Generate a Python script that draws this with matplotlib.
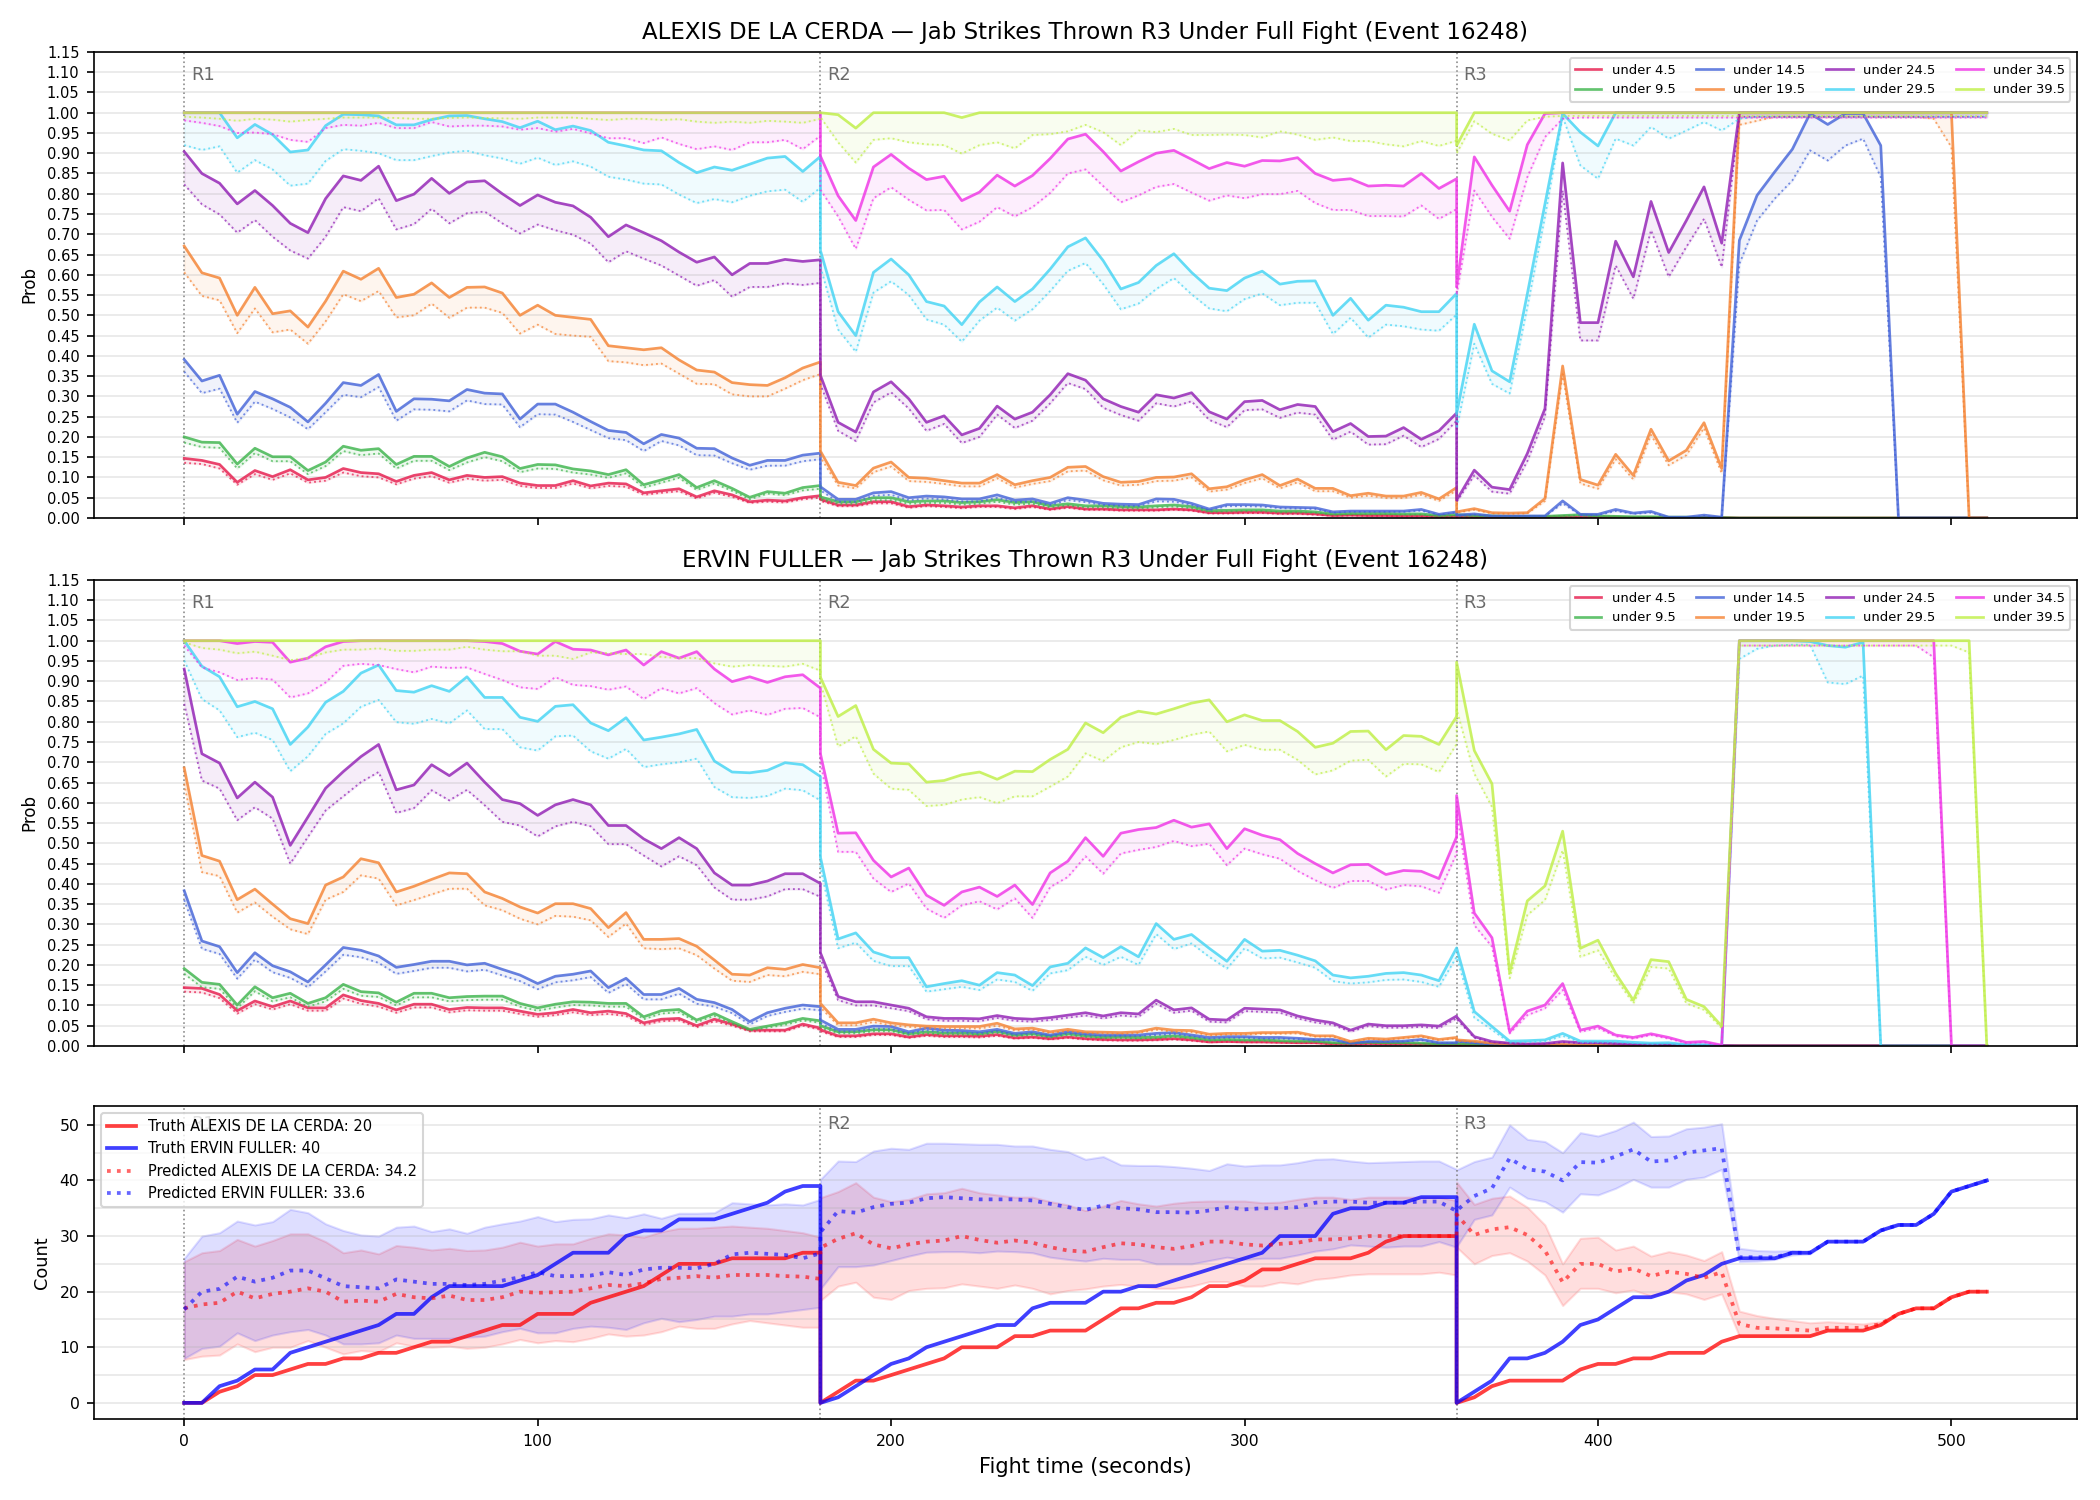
import numpy as np
import matplotlib
matplotlib.use("Agg")
import matplotlib.pyplot as plt
import matplotlib.transforms as mtransforms
from matplotlib.ticker import MultipleLocator, FormatStrFormatter

# -----------------------------
# CONFIG / DATA
# -----------------------------
FIGHTER_A = "ALEXIS DE LA CERDA"
FIGHTER_B = "ERVIN FULLER"
EVENT = "Jab Strikes Thrown R3 Under Full Fight (Event 16248)"

ROUND_STARTS = [0, 180, 360]
ROUND_ENDS = [180, 360, 510]
ROUND_NAMES = ["R1", "R2", "R3"]
STEP = 5

THRESHOLDS = ["under 4.5", "under 9.5", "under 14.5", "under 19.5",
              "under 24.5", "under 29.5", "under 34.5", "under 39.5"]
LINE_COLORS = ["#e6194b", "#3cb44b", "#4363d8", "#f58231",
               "#911eb4", "#42d4f4", "#f032e6", "#bfef45"]

# ---- ALEXIS DE LA CERDA probabilities (solid = estimate, _LO = lower bound)
A_U45 = ([.147, .142, .132, .088, .117, .102, .119, .094, .100, .122, .112, .109, .090, .105, .112, .094, .105, .100, .102, .086, .080, .080, .092, .079, .086, .084, .062, .067, .072, .052, .067, .057, .040, .044, .042, .050, .055]
         + [.046, .032, .032, .040, .040, .028, .032, .030, .027, .030, .030, .025, .030, .022, .028, .022, .022, .020, .020, .020, .022, .020, .013, .013, .014, .014, .012, .012, .010, .006, .007, .006, .006, .005, .005, .003, .004]
         + [.004, .003, .003, .002, .002, .002, .003, .002, .002, .002, .001, .001, .001, .001, .001, .001] + [0.0] * 15)
A_U45_LO = ([.136, .133, .122, .082, .108, .094, .110, .087, .092, .112, .103, .100, .083, .097, .103, .087, .097, .092, .094, .079, .074, .074, .085, .073, .079, .077, .057, .062, .066, .048, .062, .052, .037, .040, .038, .046, .050]
            + [.042, .029, .029, .036, .036, .025, .029, .027, .024, .027, .027, .022, .027, .020, .025, .020, .020, .018, .018, .018, .020, .018, .011, .011, .012, .012, .010, .010, .008, .005, .006, .005, .005, .004, .004, .002, .003]
            + [.003, .002, .002, .001, .001, .001, .002, .001, .001, .001, 0, 0, 0, 0, 0, 0] + [0.0] * 15)
A_U95 = ([.200, .187, .186, .133, .172, .151, .151, .117, .138, .177, .167, .171, .132, .152, .152, .127, .148, .162, .151, .122, .132, .131, .121, .116, .107, .119, .082, .094, .107, .075, .092, .073, .051, .065, .061, .075, .080]
         + [.052, .040, .040, .050, .050, .040, .042, .042, .038, .040, .045, .038, .040, .030, .035, .030, .030, .028, .027, .030, .032, .028, .018, .019, .020, .020, .017, .017, .015, .010, .011, .011, .011, .010, .010, .006, .008]
         + [.008, .006, .005, .004, .004, .004, .006, .008, .005, .004, .003, .003, .002, .002, .001, .001] + [0.0] * 15)
A_U95_LO = ([.186, .175, .173, .122, .160, .140, .140, .108, .128, .165, .155, .159, .122, .141, .141, .118, .137, .150, .140, .113, .122, .121, .112, .107, .099, .110, .075, .087, .099, .069, .085, .067, .046, .060, .056, .068, .072]
            + [.046, .035, .035, .044, .044, .035, .037, .037, .033, .035, .040, .033, .035, .026, .031, .026, .026, .024, .023, .026, .028, .024, .015, .016, .017, .017, .014, .014, .013, .008, .009, .009, .009, .008, .008, .005, .006]
            + [.006, .005, .004, .003, .003, .003, .005, .006, .004, .003, .002, .002, .001, .001, 0, 0] + [0.0] * 15)
A_U145 = ([.391, .338, .352, .256, .312, .294, .273, .237, .283, .334, .327, .354, .263, .294, .293, .289, .317, .308, .306, .244, .281, .281, .261, .238, .216, .211, .183, .206, .197, .172, .171, .148, .130, .142, .142, .155, .160]
          + [.077, .046, .046, .062, .065, .050, .054, .052, .047, .047, .057, .044, .047, .036, .050, .044, .036, .034, .033, .047, .046, .036, .022, .033, .033, .032, .027, .026, .025, .015, .017, .017, .017, .017, .021, .009, .015]
          + [.007, .010, .005, .005, .005, .005, .042, .009, .009, .021, .012, .016, .002, .002, .007, .002, .685, .796, .854, .910, .998, .971, .998, .998, .919] + [0.0] * 6)
A_U145_LO = ([.361, .308, .319, .235, .287, .269, .248, .219, .261, .304, .298, .323, .240, .268, .267, .263, .290, .281, .280, .224, .256, .255, .237, .217, .197, .192, .165, .190, .179, .155, .154, .135, .119, .129, .129, .140, .145]
             + [.068, .040, .040, .055, .057, .044, .048, .046, .041, .041, .050, .039, .041, .032, .044, .039, .032, .030, .029, .041, .040, .032, .019, .029, .029, .028, .024, .023, .022, .013, .015, .015, .015, .015, .018, .008, .013]
             + [.005, .008, .004, .004, .004, .004, .036, .007, .007, .017, .010, .013, .001, .001, .005, .001, .627, .734, .788, .833, .907, .882, .919, .936, .841] + [0.0] * 6)
A_U195 = ([.671, .605, .592, .500, .569, .504, .511, .471, .535, .609, .589, .616, .544, .552, .580, .544, .569, .570, .555, .500, .525, .500, .495, .490, .425, .420, .415, .420, .390, .365, .360, .334, .329, .327, .346, .370, .385]
          + [.165, .088, .080, .123, .138, .100, .098, .092, .086, .086, .107, .082, .092, .100, .125, .127, .102, .088, .090, .100, .101, .109, .072, .077, .094, .107, .080, .096, .073, .073, .055, .061, .054, .054, .063, .047, .075]
          + [.015, .023, .013, .012, .013, .048, .375, .095, .081, .157, .105, .219, .141, .167, .235, .122] + [1.0] * 13 + [0.0, 0.0])
A_U195_LO = ([.606, .548, .537, .456, .517, .458, .465, .430, .485, .552, .535, .560, .495, .500, .529, .494, .519, .519, .506, .455, .477, .454, .450, .447, .387, .384, .377, .381, .356, .331, .330, .305, .300, .300, .319, .340, .355]
             + [.150, .080, .073, .113, .127, .091, .089, .084, .078, .078, .098, .075, .084, .091, .115, .117, .093, .080, .082, .091, .092, .100, .065, .070, .086, .098, .073, .088, .066, .066, .050, .055, .049, .049, .057, .042, .068]
             + [.013, .020, .011, .010, .011, .042, .355, .085, .072, .145, .095, .205, .130, .155, .222, .110, .970, .980, .990, .990, .990, .990, .990, .990, .990, .990, .990, .985, .915, 0.0, 0.0])
A_U245 = ([.904, .850, .826, .775, .808, .771, .727, .704, .788, .844, .833, .868, .783, .799, .838, .801, .829, .832, .800, .771, .797, .779, .770, .742, .694, .723, .704, .684, .656, .631, .644, .600, .628, .628, .638, .633, .637]
          + [.352, .236, .212, .311, .336, .294, .236, .252, .205, .221, .276, .244, .261, .304, .356, .340, .294, .275, .261, .304, .296, .309, .262, .244, .287, .290, .267, .280, .275, .213, .233, .201, .202, .223, .194, .215, .259]
          + [.044, .118, .076, .070, .159, .270, .876, .482, .482, .683, .595, .781, .655, .734, .817, .678] + [1.0] * 15)
A_U245_LO = ([.823, .774, .749, .704, .735, .694, .660, .640, .694, .767, .757, .789, .712, .725, .763, .727, .752, .756, .727, .702, .724, .710, .699, .677, .631, .658, .640, .623, .598, .573, .587, .546, .570, .570, .579, .575, .580]
             + [.330, .215, .190, .285, .310, .270, .215, .232, .185, .200, .255, .222, .240, .283, .333, .318, .272, .254, .240, .283, .275, .288, .242, .224, .266, .268, .247, .260, .255, .193, .213, .181, .182, .203, .175, .195, .240]
             + [.040, .105, .065, .060, .140, .250, .808, .438, .438, .623, .541, .710, .595, .669, .738, .619] + [0.99] * 15)
A_U295 = ([1.0, 1.0, 1.0, .938, .971, .946, .903, .908, .968, .996, .995, .992, .970, .970, .983, .992, .993, .985, .978, .963, .979, .958, .967, .956, .927, .918, .908, .906, .877, .852, .866, .858, .873, .888, .892, .855, .892]
          + [.660, .509, .450, .606, .639, .600, .534, .523, .477, .533, .570, .534, .565, .614, .669, .691, .635, .565, .581, .623, .652, .606, .567, .561, .592, .609, .577, .584, .585, .500, .542, .488, .525, .520, .509, .509, .554]
          + [.257, .478, .363, .336, .553, .775, .998, .952, .918] + [1.0] * 22)
A_U295_LO = ([.920, .908, .917, .852, .883, .860, .820, .825, .881, .910, .906, .900, .883, .883, .893, .902, .906, .895, .887, .874, .889, .871, .880, .867, .842, .835, .825, .823, .798, .777, .787, .779, .795, .806, .810, .780, .815]
             + [.620, .465, .410, .556, .584, .550, .490, .477, .435, .487, .519, .487, .515, .560, .610, .629, .577, .515, .529, .565, .592, .552, .517, .510, .540, .554, .525, .531, .531, .454, .494, .445, .477, .473, .465, .462, .502]
             + [.220, .430, .331, .307, .520, .743, .990, .870, .837, .936, .919, .965, .936, .956, .977, .956, .985] + [0.99] * 14)
A_U345 = ([1.0] * 37
          + [.893, .795, .734, .866, .897, .863, .835, .843, .783, .804, .846, .819, .845, .887, .935, .947, .904, .856, .879, .900, .907, .885, .862, .877, .868, .882, .881, .889, .850, .833, .837, .819, .821, .819, .850, .813, .837]
          + [.570, .891, .821, .757, .921, .998] + [1.0] * 25)
A_U345_LO = ([.981, .975, .967, .950, .951, .947, .933, .928, .962, .970, .968, .975, .962, .962, .977, .966, .968, .968, .966, .958, .962, .953, .960, .949, .937, .937, .925, .939, .923, .910, .917, .908, .927, .927, .933, .910, .943]
             + [.810, .744, .664, .789, .816, .785, .759, .760, .712, .731, .767, .744, .767, .802, .850, .860, .819, .779, .796, .817, .824, .803, .783, .796, .789, .799, .799, .807, .777, .760, .760, .745, .745, .744, .771, .738, .762]
             + [.550, .808, .743, .689, .841, .940, .985] + [0.988] * 24)
A_U395 = ([1.0] * 37
          + [1.0, .995, .962, 1.0, 1.0, 1.0, 1.0, 1.0, .988, 1.0] + [1.0] * 27
          + [.919] + [1.0] * 30)
A_U395_LO = ([.990, .988, .985, .980, .985, .983, .978, .982, .985, .988, .988, .988, .987, .985, .985, .987, .988, .987, .986, .985, .988, .988, .988, .985, .982, .985, .985, .982, .984, .978, .975, .978, .975, .980, .978, .975, .985]
             + [.989, .927, .877, .933, .937, .927, .922, .920, .899, .920, .927, .912, .945, .947, .954, .970, .952, .920, .956, .952, .960, .945, .945, .946, .945, .939, .954, .946, .933, .939, .930, .930, .922, .917, .930, .918, .931]
             + [.900, .979, .948, .932, .981, .990] + [0.992] * 25)

# ---- ERVIN FULLER probabilities
E_U45 = ([.144, .142, .127, .087, .111, .097, .111, .094, .094, .126, .112, .105, .089, .103, .103, .090, .095, .094, .094, .086, .078, .082, .090, .082, .086, .080, .057, .066, .068, .050, .066, .054, .039, .039, .039, .054, .044]
         + [.040, .025, .025, .030, .030, .022, .028, .025, .025, .024, .028, .020, .022, .018, .022, .018, .016, .015, .015, .016, .018, .015, .010, .011, .010, .010, .009, .008, .008, .005, .004, .006, .005, .005, .004, .003, .003]
         + [.003, .002, .001, .001] + [0.0] * 27)
E_U45_LO = ([.134, .132, .118, .080, .103, .090, .103, .087, .087, .117, .104, .097, .082, .095, .095, .083, .088, .087, .087, .079, .072, .076, .083, .076, .079, .074, .052, .061, .063, .046, .061, .050, .036, .036, .036, .050, .040]
            + [.036, .022, .022, .027, .027, .020, .025, .022, .022, .021, .025, .018, .020, .016, .020, .016, .014, .013, .013, .014, .016, .013, .009, .010, .009, .009, .008, .007, .007, .004, .003, .005, .004, .004, .003, .002, .002]
            + [.002, .001, 0.0, 0.0] + [0.0] * 27)
E_U95 = ([.191, .157, .152, .101, .146, .119, .130, .105, .119, .152, .134, .131, .108, .130, .130, .119, .122, .123, .123, .105, .094, .103, .109, .108, .105, .105, .072, .087, .090, .064, .080, .060, .041, .049, .057, .068, .062]
         + [.050, .035, .035, .040, .040, .030, .035, .032, .032, .030, .036, .027, .030, .024, .030, .025, .022, .022, .021, .022, .025, .021, .015, .016, .015, .015, .013, .012, .012, .008, .007, .009, .008, .008, .007, .005, .006]
         + [.006, .004, .002, .001, .001] + [0.0] * 26)
E_U95_LO = ([.178, .145, .141, .093, .135, .110, .120, .097, .110, .141, .124, .121, .100, .120, .120, .110, .113, .114, .114, .097, .087, .095, .101, .100, .097, .097, .066, .080, .083, .059, .074, .055, .038, .045, .052, .063, .057]
            + [.045, .031, .031, .036, .036, .027, .031, .028, .028, .027, .032, .024, .027, .021, .027, .022, .019, .019, .018, .019, .022, .018, .013, .014, .013, .013, .011, .010, .010, .007, .006, .008, .007, .007, .006, .004, .005]
            + [.005, .003, .001, 0.0, 0.0] + [0.0] * 26)
E_U145 = ([.383, .259, .245, .181, .230, .198, .183, .158, .200, .243, .236, .222, .194, .201, .209, .209, .200, .204, .189, .175, .154, .172, .177, .185, .144, .167, .127, .127, .142, .115, .107, .090, .060, .082, .093, .101, .097]
          + [.064, .041, .041, .049, .048, .035, .044, .039, .038, .035, .041, .031, .035, .027, .035, .030, .027, .027, .027, .031, .033, .027, .021, .023, .023, .021, .021, .019, .016, .016, .007, .011, .011, .012, .016, .008, .008]
          + [.012, .008, .004, .003, .002, .002, .002, .001] + [0.0] * 23)
E_U145_LO = ([.360, .240, .227, .166, .213, .182, .168, .145, .184, .225, .219, .205, .178, .185, .193, .193, .184, .188, .174, .160, .140, .157, .162, .170, .131, .153, .115, .115, .129, .104, .097, .081, .053, .074, .084, .092, .088]
             + [.056, .036, .036, .043, .042, .031, .039, .034, .033, .031, .036, .027, .031, .024, .031, .026, .024, .024, .024, .027, .029, .024, .018, .020, .020, .018, .018, .017, .014, .014, .006, .010, .010, .011, .014, .007, .007]
             + [.010, .007, .003, .002, .001, .001, .001, 0.0] + [0.0] * 23)
E_U195 = ([.686, .470, .456, .361, .387, .350, .314, .302, .397, .417, .462, .452, .380, .394, .411, .427, .425, .380, .364, .343, .328, .351, .351, .339, .292, .329, .263, .263, .265, .246, .212, .177, .175, .193, .189, .201, .193]
          + [.105, .057, .057, .066, .057, .052, .049, .048, .048, .048, .056, .042, .044, .035, .041, .035, .034, .033, .035, .044, .039, .038, .029, .031, .031, .033, .033, .034, .025, .025, .011, .019, .017, .021, .025, .016, .021]
          + [.015, .012, .007, .005, .003, .003, .004, .002, .002, .002, .001, .001, .001, .001, 0.0, 0.0] + [0.0] * 15)
E_U195_LO = ([.647, .429, .419, .329, .354, .319, .288, .276, .361, .380, .421, .413, .347, .360, .374, .388, .388, .347, .335, .314, .300, .321, .319, .310, .269, .302, .241, .239, .241, .224, .191, .161, .158, .175, .172, .183, .177]
             + [.095, .051, .051, .059, .051, .047, .044, .043, .043, .043, .050, .038, .040, .032, .037, .032, .031, .030, .032, .040, .035, .034, .026, .028, .028, .030, .030, .031, .023, .023, .010, .017, .015, .019, .023, .014, .019]
             + [.013, .010, .006, .004, .002, .002, .003, .001, .001, .001, 0.0, 0.0, 0.0, 0.0, 0.0, 0.0] + [0.0] * 15)
E_U245 = ([.930, .721, .698, .612, .651, .614, .495, .565, .636, .677, .714, .744, .632, .644, .694, .667, .698, .651, .608, .598, .569, .595, .608, .595, .544, .544, .511, .487, .514, .487, .427, .397, .397, .407, .425, .425, .401]
          + [.230, .122, .109, .109, .101, .093, .072, .068, .068, .067, .075, .068, .066, .070, .076, .082, .074, .082, .079, .113, .089, .094, .066, .064, .093, .091, .089, .074, .064, .057, .039, .054, .050, .050, .052, .049, .074]
          + [.072, .023, .011, .007, .005, .006, .011, .008, .008, .006, .004, .004, .003, .002, .002, .001] + [0.0] * 15)
E_U245_LO = ([.844, .655, .635, .557, .589, .561, .450, .516, .581, .616, .651, .676, .575, .587, .631, .606, .632, .594, .553, .544, .517, .542, .553, .542, .498, .498, .470, .443, .468, .446, .391, .361, .361, .369, .387, .387, .368]
             + [.215, .113, .100, .100, .093, .086, .066, .062, .062, .061, .069, .062, .060, .064, .070, .075, .068, .075, .072, .104, .082, .087, .060, .058, .086, .084, .082, .068, .058, .052, .035, .049, .045, .045, .047, .044, .068]
             + [.066, .020, .009, .006, .004, .005, .009, .007, .007, .005, .003, .003, .002, .001, .001, 0.0] + [0.0] * 15)
E_U295 = ([1.0, .937, .911, .837, .850, .832, .744, .787, .848, .875, .920, .940, .877, .873, .889, .875, .911, .860, .860, .811, .801, .838, .842, .797, .778, .810, .755, .762, .770, .781, .703, .676, .674, .680, .699, .694, .665]
          + [.466, .264, .279, .232, .218, .218, .146, .154, .161, .150, .181, .175, .149, .195, .204, .242, .218, .245, .220, .302, .263, .275, .241, .209, .263, .234, .236, .224, .210, .175, .168, .172, .179, .181, .175, .161, .242]
          + [.242, .085, .048, .012, .013, .015, .031, .012, .012, .012, .009, .007, .008, .003, .003, .001, 1.0, 1.0, 1.0, 1.0, .998, .988, .984, .996] + [0.0] * 7)
E_U295_LO = ([.951, .856, .828, .762, .773, .755, .678, .715, .770, .796, .837, .854, .799, .795, .807, .796, .828, .782, .782, .737, .729, .764, .766, .727, .709, .733, .688, .695, .700, .709, .639, .614, .612, .617, .635, .631, .606]
             + [.440, .241, .255, .210, .197, .197, .134, .140, .146, .138, .164, .158, .136, .179, .187, .220, .200, .220, .200, .276, .239, .253, .220, .191, .241, .216, .218, .206, .193, .160, .154, .157, .163, .164, .158, .146, .220]
             + [.220, .070, .040, .008, .009, .011, .025, .009, .009, .009, .007, .005, .006, .002, .002, .001, .955, .980, .988, .990, .990, .897, .893, .914] + [0.0] * 7)
E_U345 = ([1.0, 1.0, 1.0, .993, .998, .996, .947, .957, .985, .998, 1.0, 1.0, 1.0, 1.0, 1.0, 1.0, 1.0, .998, .993, .974, .967, .998, .979, .977, .965, .977, .940, .973, .957, .973, .930, .899, .911, .897, .911, .916, .883]
          + [.721, .525, .526, .458, .417, .439, .372, .347, .380, .392, .369, .397, .349, .427, .456, .514, .468, .525, .534, .539, .557, .540, .548, .487, .536, .520, .509, .475, .450, .427, .447, .448, .423, .433, .431, .413, .516]
          + [.618, .328, .267, .035, .086, .101, .154, .039, .049, .027, .021, .030, .021, .009, .011, .002] + [1.0] * 12 + [0.0] * 3)
E_U345_LO = ([.988, .934, .922, .903, .908, .904, .860, .870, .897, .938, .943, .940, .930, .922, .936, .933, .934, .918, .903, .885, .881, .910, .891, .888, .879, .887, .856, .883, .870, .883, .846, .818, .828, .817, .832, .834, .811]
             + [.700, .479, .479, .413, .380, .401, .339, .316, .347, .357, .337, .364, .316, .392, .417, .468, .425, .475, .484, .491, .506, .493, .499, .446, .487, .473, .462, .432, .409, .390, .407, .407, .386, .397, .394, .378, .475]
             + [.580, .298, .245, .031, .076, .093, .138, .035, .044, .024, .018, .027, .018, .007, .009, .001] + [0.988] * 11 + [.959] + [0.0] * 3)
E_U395 = ([1.0] * 37
          + [.910, .813, .840, .732, .698, .696, .651, .655, .669, .676, .658, .678, .677, .707, .732, .797, .773, .811, .826, .819, .832, .846, .854, .800, .817, .803, .803, .776, .737, .747, .776, .777, .731, .766, .764, .744, .813]
          + [.947, .729, .647, .181, .358, .395, .530, .241, .261, .179, .113, .213, .208, .115, .097, .049] + [1.0] * 14 + [0.0])
E_U395_LO = ([.996, .982, .978, .969, .973, .963, .952, .957, .971, .978, .978, .981, .975, .975, .978, .978, .985, .978, .974, .974, .963, .963, .955, .971, .969, .967, .967, .960, .957, .957, .944, .936, .940, .938, .936, .943, .926]
             + [.897, .739, .764, .672, .635, .632, .592, .595, .608, .614, .599, .616, .616, .640, .665, .722, .703, .737, .750, .745, .755, .768, .776, .727, .743, .731, .731, .706, .670, .680, .704, .706, .665, .696, .695, .676, .745]
             + [.830, .672, .590, .167, .323, .360, .483, .220, .236, .167, .105, .195, .191, .105, .089, .044] + [0.988] * 13 + [.971, 0.0])

# ---- cumulative counts
TRUTH_A = ([0, 0, 2, 3, 5, 5, 6, 7, 7, 8, 8, 9, 9, 10, 11, 11, 12, 13, 14, 14, 16, 16, 16, 18, 19, 20, 21, 23, 25, 25, 25, 26, 26, 26, 26, 27, 27]
           + [0, 2, 4, 4, 5, 6, 7, 8, 10, 10, 10, 12, 12, 13, 13, 13, 15, 17, 17, 18, 18, 19, 21, 21, 22, 24, 24, 25, 26, 26, 26, 27, 29, 30, 30, 30, 30]
           + [0, 1, 3, 4, 4, 4, 4, 6, 7, 7, 8, 8, 9, 9, 9, 11, 12, 12, 12, 12, 12, 13, 13, 13, 14, 16, 17, 17, 19, 20, 20])
TRUTH_B = ([0, 0, 3, 4, 6, 6, 9, 10, 11, 12, 13, 14, 16, 16, 19, 21, 21, 21, 21, 22, 23, 25, 27, 27, 27, 30, 31, 31, 33, 33, 33, 34, 35, 36, 38, 39, 39]
           + [0, 1, 3, 5, 7, 8, 10, 11, 12, 13, 14, 14, 17, 18, 18, 18, 20, 20, 21, 21, 22, 23, 24, 25, 26, 27, 30, 30, 30, 34, 35, 35, 36, 36, 37, 37, 37]
           + [0, 2, 4, 8, 8, 9, 11, 14, 15, 17, 19, 19, 20, 22, 23, 25, 26, 26, 26, 27, 27, 29, 29, 29, 31, 32, 32, 34, 38, 39, 40])
PRED_A = ([17.0, 17.7, 18.0, 20.0, 18.8, 19.6, 20.0, 20.6, 20.0, 18.2, 18.4, 18.2, 19.6, 19.0, 18.8, 19.3, 18.5, 18.5, 19.0, 20.0, 19.8, 19.9, 20.0, 20.6, 21.2, 21.0, 21.5, 22.3, 22.5, 22.8, 22.5, 23.0, 23.0, 23.0, 22.8, 22.7, 22.3]
          + [27.9, 29.5, 30.5, 28.5, 27.8, 28.5, 29.0, 29.2, 30.0, 29.3, 28.8, 29.2, 28.8, 28.0, 27.4, 27.2, 28.0, 28.7, 28.5, 28.0, 27.7, 28.2, 29.0, 29.0, 28.5, 28.3, 28.6, 28.8, 29.4, 29.4, 29.6, 30.0, 30.0, 30.0, 30.0, 30.0, 30.0]
          + [33.9, 30.2, 31.2, 31.6, 30.2, 27.4, 21.7, 25.0, 25.0, 23.6, 24.2, 22.8, 23.6, 23.2, 22.5, 23.5, 14.2, 13.5, 13.4, 13.2, 13.0, 13.5, 13.5, 13.5, 14.2, 16.0, 17.0, 17.0, 19.0, 20.0, 20.0])
PRED_B = ([16.8, 20.0, 20.5, 22.7, 21.8, 22.5, 23.8, 23.8, 22.4, 21.0, 20.8, 20.6, 22.2, 21.8, 21.4, 21.4, 21.2, 21.4, 22.0, 22.6, 23.5, 22.8, 22.8, 22.9, 23.5, 23.0, 24.0, 24.3, 24.3, 24.2, 25.0, 26.7, 27.0, 26.8, 26.6, 26.0, 26.9]
          + [30.7, 34.5, 34.2, 35.2, 35.8, 36.0, 36.8, 37.0, 36.8, 36.6, 36.6, 36.6, 36.4, 35.8, 35.2, 34.7, 35.5, 35.0, 34.8, 34.3, 34.3, 34.2, 34.6, 35.2, 34.8, 35.0, 35.0, 35.2, 36.0, 36.2, 36.2, 36.0, 36.0, 36.0, 36.2, 36.2, 34.5]
          + [34.6, 37.2, 38.6, 44.0, 42.0, 41.6, 40.0, 43.3, 43.2, 44.3, 45.6, 43.4, 43.6, 45.0, 45.4, 45.8, 26.2, 26.2, 26.2, 27.0, 27.0, 29.0, 29.0, 29.0, 31.0, 32.0, 32.0, 34.0, 38.0, 39.0, 40.0])
PRED_A_HI = ([25.4, 27.0, 27.4, 29.4, 28.2, 29.2, 30.4, 30.4, 29.0, 27.0, 27.5, 26.8, 28.3, 28.0, 27.5, 27.8, 27.4, 27.5, 28.0, 28.9, 28.2, 28.6, 28.6, 29.6, 30.4, 30.2, 29.8, 30.8, 31.4, 31.4, 31.6, 31.8, 31.6, 31.4, 31.0, 30.6, 29.8]
             + [36.9, 38.0, 39.6, 37.0, 36.2, 36.6, 37.6, 37.8, 38.6, 37.8, 37.4, 37.0, 37.0, 36.2, 35.6, 34.6, 35.4, 36.4, 35.8, 35.4, 35.9, 36.2, 36.3, 36.3, 36.3, 36.0, 36.1, 36.6, 37.0, 37.0, 36.6, 37.0, 37.0, 37.0, 37.0, 37.0, 36.4]
             + [39.7, 35.7, 36.8, 37.2, 35.2, 32.0, 25.0, 29.6, 29.8, 27.5, 28.2, 26.4, 27.2, 26.6, 25.6, 27.2, 16.5, 15.7, 15.2, 14.8, 14.4, 14.6, 14.4, 14.2, 14.6, 16.0, 17.0, 17.0, 19.0, 20.0, 20.0])
PRED_A_LO = ([7.8, 8.4, 8.6, 10.6, 9.2, 10.0, 10.0, 11.2, 10.0, 8.8, 9.4, 9.2, 10.8, 10.2, 10.0, 10.2, 9.8, 10.0, 10.6, 11.4, 10.8, 11.2, 11.0, 11.6, 12.4, 12.0, 12.2, 12.8, 13.8, 13.4, 13.4, 14.2, 14.8, 14.4, 14.0, 13.6, 13.6]
             + [18.4, 21.0, 21.7, 19.0, 18.6, 20.2, 20.6, 20.7, 21.4, 21.0, 20.6, 21.2, 20.6, 19.6, 20.2, 20.5, 21.0, 21.3, 21.0, 20.6, 20.6, 21.0, 21.8, 21.8, 21.0, 21.0, 21.7, 21.4, 22.2, 22.5, 23.0, 23.2, 23.2, 23.2, 23.2, 23.5, 23.0]
             + [28.0, 25.0, 26.5, 27.0, 25.5, 23.0, 17.5, 20.6, 20.6, 19.8, 20.3, 19.2, 20.0, 19.6, 18.6, 19.6, 12.0, 12.0, 12.0, 12.0, 12.0, 13.0, 13.0, 13.0, 14.0, 16.0, 17.0, 17.0, 19.0, 20.0, 20.0])
PRED_B_HI = ([26.0, 30.0, 30.6, 32.7, 32.0, 32.6, 34.8, 34.2, 32.2, 31.0, 30.2, 30.0, 31.6, 31.8, 30.8, 31.3, 30.5, 31.6, 32.2, 32.7, 33.5, 32.6, 33.0, 33.1, 33.8, 33.3, 34.0, 33.2, 34.1, 34.1, 34.2, 36.0, 35.8, 35.6, 35.8, 35.6, 36.6]
             + [40.2, 43.5, 43.4, 45.3, 45.8, 45.6, 46.7, 46.7, 46.6, 46.5, 46.5, 46.2, 46.2, 45.6, 45.2, 43.8, 44.3, 42.8, 42.7, 42.7, 42.5, 42.2, 41.8, 43.0, 42.6, 42.8, 42.8, 43.2, 43.8, 43.9, 43.5, 43.2, 43.3, 43.4, 43.5, 43.5, 42.0]
             + [41.9, 43.4, 44.2, 50.0, 47.4, 47.0, 45.0, 48.6, 48.0, 49.0, 50.5, 47.9, 48.0, 49.3, 49.6, 50.2, 27.8, 27.4, 27.3, 27.4, 27.0, 29.0, 29.0, 29.0, 31.0, 32.0, 32.0, 34.0, 38.0, 39.0, 40.0])
PRED_B_LO = ([8.0, 9.8, 10.2, 12.6, 11.2, 12.2, 12.8, 13.2, 12.2, 10.6, 10.6, 10.8, 12.2, 11.6, 11.6, 11.6, 11.8, 12.0, 12.8, 13.4, 12.6, 12.6, 13.4, 13.8, 13.6, 13.2, 14.4, 15.2, 14.6, 15.0, 15.6, 15.6, 16.0, 16.0, 16.4, 16.8, 17.2]
             + [20.5, 24.5, 24.5, 24.8, 25.6, 26.4, 27.1, 27.2, 27.2, 27.0, 27.3, 27.2, 27.0, 26.2, 25.8, 25.5, 26.0, 25.8, 25.8, 25.0, 25.0, 25.0, 25.6, 26.2, 25.8, 26.0, 26.0, 26.6, 27.3, 27.7, 28.4, 28.2, 28.0, 28.2, 28.2, 29.0, 28.0]
             + [28.1, 33.0, 33.8, 38.8, 36.8, 36.2, 34.3, 37.6, 37.4, 38.6, 40.2, 38.8, 38.8, 40.2, 40.6, 42.0, 25.4, 25.5, 25.8, 26.6, 26.8, 29.0, 29.0, 29.0, 31.0, 32.0, 32.0, 34.0, 38.0, 39.0, 40.0])

FINAL_TRUTH_A, FINAL_TRUTH_B = 20, 40
FINAL_PRED_A, FINAL_PRED_B = 34.2, 33.6

# sample times: every 5 s inside each round, round boundary repeated
t = np.concatenate([np.arange(s, e + 1, STEP) for s, e in zip(ROUND_STARTS, ROUND_ENDS)])

PANEL_A = [(A_U45, A_U45_LO), (A_U95, A_U95_LO), (A_U145, A_U145_LO), (A_U195, A_U195_LO),
           (A_U245, A_U245_LO), (A_U295, A_U295_LO), (A_U345, A_U345_LO), (A_U395, A_U395_LO)]
PANEL_B = [(E_U45, E_U45_LO), (E_U95, E_U95_LO), (E_U145, E_U145_LO), (E_U195, E_U195_LO),
           (E_U245, E_U245_LO), (E_U295, E_U295_LO), (E_U345, E_U345_LO), (E_U395, E_U395_LO)]


# -----------------------------
# HELPERS
# -----------------------------
def mark_rounds(ax):
    trans = mtransforms.blended_transform_factory(ax.transData, ax.transAxes)
    for start, name in zip(ROUND_STARTS, ROUND_NAMES):
        ax.axvline(start, color="gray", ls=":", lw=0.8, alpha=0.9, zorder=1)
        ax.text(start + 2, 0.97, name, transform=trans, va="top", ha="left",
                fontsize=8.5, color="dimgray", zorder=1)


def prob_panel(ax, lines, fighter):
    for (label, color, (mid, lo)) in zip(THRESHOLDS, LINE_COLORS, lines):
        mid = np.asarray(mid)
        lo = np.asarray(lo)
        ax.fill_between(t, lo, mid, color=color, alpha=0.08)
        ax.plot(t, lo, color=color, ls=":", lw=0.9, alpha=0.7)
        ax.plot(t, mid, color=color, lw=1.3, alpha=0.8, label=label)
    mark_rounds(ax)
    ax.set_ylim(0, 1.15)
    ax.set_yticks(np.round(np.arange(0, 1.151, 0.05), 2))
    ax.yaxis.set_major_formatter(FormatStrFormatter("%.2f"))
    ax.tick_params(axis="both", labelsize=7)
    ax.grid(axis="y", alpha=0.3)
    ax.set_ylabel("Prob", fontsize=8)
    ax.set_title(f"{fighter} \u2014 {EVENT}", fontsize=11)
    ax.legend(loc="upper right", ncol=4, fontsize=6.3, columnspacing=1.6,
              framealpha=0.8)
    ax.tick_params(axis="x", labelbottom=False)


# -----------------------------
# PLOT
# -----------------------------
fig = plt.figure(figsize=(14, 10), dpi=150)
ax1 = fig.add_axes([0.0448, 0.6547, 0.9442, 0.3107])
ax2 = fig.add_axes([0.0448, 0.3027, 0.9442, 0.3107], sharex=ax1)
ax3 = fig.add_axes([0.0448, 0.054, 0.9442, 0.2087], sharex=ax1)

prob_panel(ax1, PANEL_A, FIGHTER_A)
prob_panel(ax2, PANEL_B, FIGHTER_B)

# counts panel
ax3.fill_between(t, PRED_A_LO, PRED_A_HI, color="red", alpha=0.13)
ax3.fill_between(t, PRED_B_LO, PRED_B_HI, color="blue", alpha=0.13)
ax3.plot(t, TRUTH_A, color="red", lw=1.8, alpha=0.75, label=f"Truth {FIGHTER_A}: {FINAL_TRUTH_A}")
ax3.plot(t, TRUTH_B, color="blue", lw=1.8, alpha=0.75, label=f"Truth {FIGHTER_B}: {FINAL_TRUTH_B}")
ax3.plot(t, PRED_A, color="red", ls=":", lw=1.8, alpha=0.6, label=f"Predicted {FIGHTER_A}: {FINAL_PRED_A}")
ax3.plot(t, PRED_B, color="blue", ls=":", lw=1.8, alpha=0.6, label=f"Predicted {FIGHTER_B}: {FINAL_PRED_B}")
mark_rounds(ax3)
ax3.set_ylim(-2.9, 53.4)
ax3.yaxis.set_major_locator(MultipleLocator(10))
ax3.yaxis.set_minor_locator(MultipleLocator(5))
ax3.tick_params(axis="y", which="minor", length=0)
ax3.grid(axis="y", which="both", alpha=0.3)
ax3.tick_params(axis="both", labelsize=7.5)
ax3.set_ylabel("Count", fontsize=8.5)
ax3.set_xlabel("Fight time (seconds)", fontsize=10)
leg = ax3.legend(loc="upper left", fontsize=7, framealpha=0.8)
leg.set_zorder(5)

ax1.set_xlim(-25.5, 535.5)
ax3.set_xticks([0, 100, 200, 300, 400, 500])

fig.savefig("out.png", dpi=150)
print("saved out.png")
